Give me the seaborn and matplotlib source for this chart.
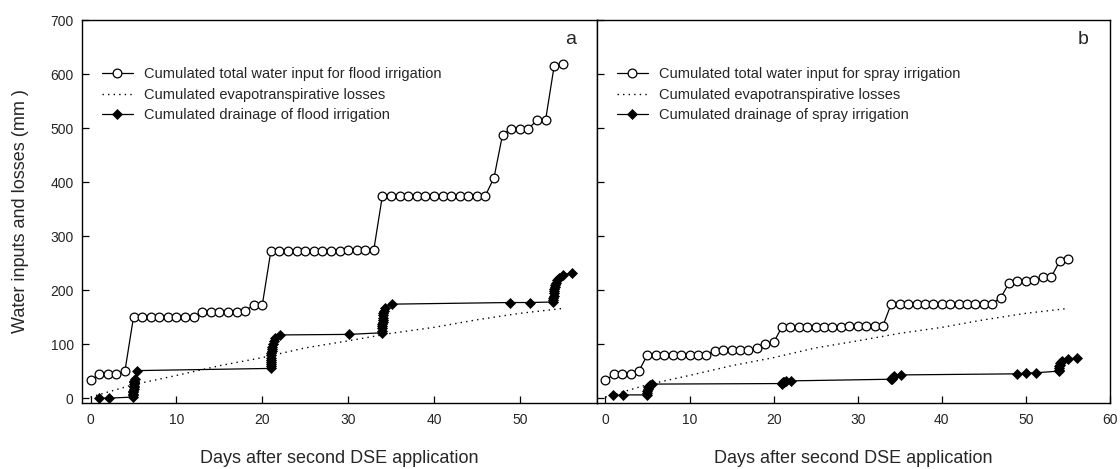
import matplotlib
matplotlib.use("Agg")
import matplotlib.pyplot as plt
import seaborn as sns

# ---- cumulated total water input (mm), one value per day ----
input_days = list(range(0, 56))
flood_input = [33, 44, 44, 44, 50, 150, 150, 150, 150, 150, 150, 150, 150,
               159, 159, 159, 159, 159, 162, 172, 172,
               272, 272, 272, 272, 272, 272, 272, 272, 273, 275, 275, 275, 275,
               375, 375, 375, 375, 375, 375, 375, 375, 375, 375, 375, 375, 375,
               408, 488, 498, 498, 499, 514, 514, 614, 618]
spray_input = [33, 44, 44, 44, 51, 80, 80, 80, 80, 80, 80, 80, 80,
               88, 89, 89, 89, 90, 92, 101, 103,
               132, 132, 132, 132, 132, 132, 132, 132, 133, 134, 134, 134, 134,
               175, 175, 175, 175, 175, 175, 175, 175, 175, 175, 175, 175, 175,
               186, 213, 217, 217, 218, 224, 224, 253, 258]

# ---- cumulated evapotranspirative losses (mm) ----
et_days = [0, 5, 10, 15, 20, 25, 30, 35, 40, 45, 50, 55]
et_loss = [2, 25, 42, 60, 75, 93, 106, 120, 131, 145, 157, 166]

# ---- cumulated drainage (mm), recorded at event times ----
flood_drain_days = [1.0, 2.15, 4.95, 4.96, 4.97, 4.98, 4.99, 5.00, 5.01, 5.02,
                    5.04, 5.06, 5.09, 5.14, 5.45,
                    21.0, 21.0, 21.01, 21.02, 21.03, 21.04, 21.05, 21.07, 21.09,
                    21.12, 21.16, 21.22, 21.32, 21.5, 22.1, 30.1,
                    33.95, 33.96, 33.97, 33.98, 34.0, 34.01, 34.03, 34.05, 34.08,
                    34.12, 34.18, 34.28, 35.1, 48.9, 51.2,
                    53.9, 53.91, 53.93, 53.95, 53.97, 54.0, 54.03, 54.07, 54.12,
                    54.2, 54.35, 54.55, 55.0, 56.1]
flood_drain = [0, 0, 2, 5, 8, 11, 14, 17, 20, 23, 26, 29, 32, 35, 51,
               55, 59, 63, 67, 71, 75, 79, 83, 87, 91, 95, 100, 106, 112, 117, 118,
               121, 125, 129, 133, 137, 141, 145, 149, 153, 157, 162, 167, 174, 177, 177,
               178, 182, 186, 190, 194, 198, 202, 206, 210, 214, 218, 222, 228, 232]

spray_drain_days = [0.95, 2.1, 4.9, 4.95, 5.0, 5.05, 5.1, 5.2, 5.35, 5.5,
                    21.0, 21.05, 21.1, 21.2, 21.5, 22.1,
                    34.0, 34.05, 34.1, 34.2, 34.3, 35.1,
                    49.0, 50.0, 51.2,
                    53.9, 53.92, 53.95, 53.98, 54.02, 54.08, 54.15, 54.25, 55.0, 56.1]
spray_drain = [5, 6, 6, 9, 13, 17, 20, 23, 25, 26,
               27, 28, 29, 30, 31, 32,
               35, 36, 37, 39, 41, 43,
               45, 46, 47,
               50, 53, 56, 59, 62, 65, 67, 69, 72, 75]

panels = [
    dict(tag="a", irrig="flood", total=flood_input, drain_x=flood_drain_days,
         drain=flood_drain, xlim=(-1, 59), xticks=range(0, 51, 10)),
    dict(tag="b", irrig="spray", total=spray_input, drain_x=spray_drain_days,
         drain=spray_drain, xlim=(-1, 60), xticks=range(0, 61, 10)),
]

sns.set_theme(style="ticks")
plt.rcParams["font.family"] = ["Liberation Sans", "DejaVu Sans"]

fig = plt.figure(figsize=(11.2, 4.69), dpi=100)
ax_a = fig.add_axes([82 / 1120, 1 - 403 / 469, 515 / 1120, 383 / 469])
ax_b = fig.add_axes([597 / 1120, 1 - 403 / 469, 513 / 1120, 383 / 469], sharey=ax_a)

for ax, p in zip([ax_a, ax_b], panels):
    sns.lineplot(x=input_days, y=p["total"], ax=ax, color="black", lw=0.9,
                 marker="o", markersize=6.3, markerfacecolor="white",
                 markeredgecolor="black", markeredgewidth=0.9,
                 estimator=None, sort=False,
                 label=f"Cumulated total water input for {p['irrig']} irrigation")
    sns.lineplot(x=et_days, y=et_loss, ax=ax, color="black", lw=1.0,
                 linestyle=(0, (1, 3)), estimator=None, sort=False,
                 label="Cumulated evapotranspirative losses")
    sns.lineplot(x=p["drain_x"], y=p["drain"], ax=ax, color="black", lw=0.9,
                 marker="D", markersize=5.5, markerfacecolor="black",
                 markeredgecolor="black", markeredgewidth=0.5,
                 estimator=None, sort=False,
                 label=f"Cumulated drainage of {p['irrig']} irrigation")

    ax.set_xticks(list(p["xticks"]))
    ax.set_yticks(range(0, 701, 100))
    ax.set_xlim(*p["xlim"])
    ax.set_ylim(-9, 700)
    ax.tick_params(axis="both", direction="in", length=5, width=0.9,
                   labelsize=10, color="black")
    ax.tick_params(axis="x", pad=7)
    ax.tick_params(axis="y", pad=6)
    for s in ax.spines.values():
        s.set_visible(True)
        s.set_color("black")
        s.set_linewidth(1.0)
    ax.set_xlabel("Days after second DSE application", fontsize=13, labelpad=17)
    ax.text(0.948, 0.937, p["tag"], transform=ax.transAxes, fontsize=14,
            ha="center", va="baseline")
    ax.legend(loc="upper left", bbox_to_anchor=(0.039, 0.877), frameon=False,
              fontsize=10.5, handlelength=2.1, handletextpad=0.75,
              labelspacing=0.45, borderpad=0, borderaxespad=0)

ax_a.set_ylabel("Water inputs and losses (mm )", fontsize=13, labelpad=15)
ax_b.set_ylabel("")
ax_b.tick_params(axis="y", labelleft=False)

fig.savefig("out.png", dpi=100)
